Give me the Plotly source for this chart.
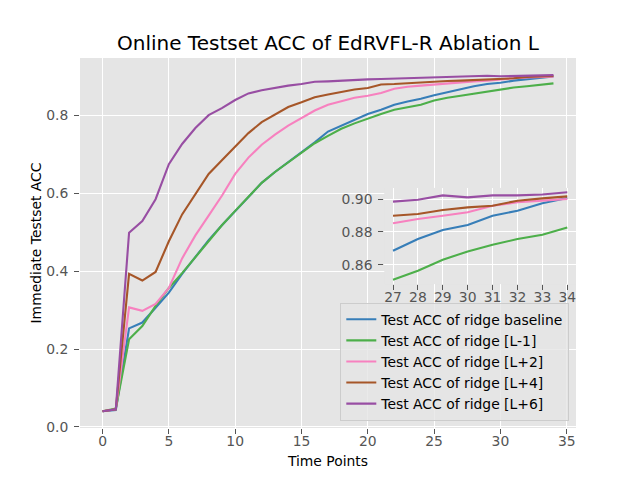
import plotly.graph_objects as go

time_points = list(range(35))

acc_baseline = [0.040, 0.043, 0.253, 0.268, 0.306, 0.345, 0.393, 0.437, 0.480, 0.518,
                0.555, 0.591, 0.627, 0.655, 0.680, 0.705, 0.731, 0.759, 0.774, 0.791,
                0.804, 0.815, 0.828, 0.836, 0.843, 0.852, 0.860, 0.8685, 0.8756, 0.8811,
                0.8842, 0.8898, 0.8929, 0.8974, 0.9006]
acc_l_minus1 = [0.040, 0.047, 0.225, 0.259, 0.311, 0.357, 0.395, 0.437, 0.479, 0.518,
                0.555, 0.590, 0.627, 0.655, 0.680, 0.705, 0.729, 0.748, 0.766, 0.780,
                0.793, 0.804, 0.815, 0.822, 0.828, 0.839, 0.846, 0.8509, 0.8563, 0.8630,
                0.8681, 0.8722, 0.8756, 0.8783, 0.8827]
acc_l_plus2 = [0.040, 0.045, 0.307, 0.298, 0.316, 0.357, 0.433, 0.492, 0.543, 0.594,
               0.650, 0.692, 0.725, 0.751, 0.774, 0.793, 0.813, 0.828, 0.837, 0.846,
               0.851, 0.858, 0.869, 0.874, 0.877, 0.880, 0.883, 0.8852, 0.8878, 0.8898,
               0.8919, 0.8959, 0.8980, 0.8990, 0.9000]
acc_l_plus4 = [0.040, 0.045, 0.393, 0.376, 0.398, 0.477, 0.546, 0.598, 0.650, 0.685,
               0.719, 0.755, 0.783, 0.803, 0.822, 0.834, 0.847, 0.854, 0.860, 0.867,
               0.871, 0.880, 0.881, 0.883, 0.886, 0.888, 0.889, 0.8898, 0.8909, 0.8933,
               0.8949, 0.8959, 0.8990, 0.9004, 0.9016]
acc_l_plus6 = [0.040, 0.045, 0.499, 0.529, 0.585, 0.675, 0.727, 0.768, 0.801, 0.819,
               0.840, 0.857, 0.865, 0.871, 0.877, 0.881, 0.887, 0.888, 0.890, 0.892,
               0.893, 0.894, 0.895, 0.895, 0.896, 0.897, 0.898, 0.8984, 0.8996, 0.9022,
               0.9010, 0.9022, 0.9022, 0.9028, 0.9041]

series_names = ["Test ACC of ridge baseline", "Test ACC of ridge [L-1]",
                "Test ACC of ridge [L+2]", "Test ACC of ridge [L+4]",
                "Test ACC of ridge [L+6]"]
series_values = [acc_baseline, acc_l_minus1, acc_l_plus2, acc_l_plus4, acc_l_plus6]
colors = ["#377eb8", "#4daf4a", "#f781bf", "#a65628", "#984ea3"]

inset_start = 27
main_xticks = [0, 5, 10, 15, 20, 25, 30, 35]
main_yticks = [0.0, 0.2, 0.4, 0.6, 0.8]
inset_xticks = list(range(27, 35))
inset_yticks = [0.86, 0.88, 0.90]

FS = 13.9  # 10pt at 100 dpi

fig = go.Figure()
for name, vals, c in zip(series_names, series_values, colors):
    fig.add_trace(go.Scatter(x=time_points, y=vals, mode="lines", name=name,
                             line=dict(color=c, width=2.1), xaxis="x", yaxis="y"))
for name, vals, c in zip(series_names, series_values, colors):
    xs = [t for t in time_points if t >= inset_start]
    ys = [v for t, v in zip(time_points, vals) if t >= inset_start]
    fig.add_trace(go.Scatter(x=xs, y=ys, mode="lines", name=name, showlegend=False,
                             line=dict(color=c, width=2.1), xaxis="x2", yaxis="y2"))

tickfont = dict(family="DejaVu Sans", size=FS, color="#555555")
axis_common = dict(showgrid=True, gridcolor="white", gridwidth=1, zeroline=False,
                   ticks="outside", ticklen=5, tickwidth=1, tickcolor="#555555",
                   tickfont=tickfont, showline=False, automargin=False)
x_common = dict(axis_common, ticklabelstandoff=-5)
y_common = dict(axis_common, ticklabelstandoff=3)

# the page adds an 8px body margin, so the figure is 632x472 placed at (8, 8)
fig.update_layout(
    width=632, height=472, autosize=False,
    margin=dict(l=72, r=64, t=50, b=52.4, pad=0),
    paper_bgcolor="white", plot_bgcolor="#E5E5E5",
    font=dict(family="DejaVu Sans", size=FS, color="black"),
    title=dict(text="Online Testset ACC of EdRVFL-R Ablation L", x=0.5, xref="paper",
               xanchor="center", y=1 - 35 / 472, yref="container", yanchor="middle",
               font=dict(family="DejaVu Sans", size=20, color="black")),
    xaxis=dict(domain=[0, 1], range=[-1.7, 35.7], tickvals=main_xticks,
               title=dict(text="Time Points", font=dict(size=FS, color="black"), standoff=8),
               **x_common),
    yaxis=dict(domain=[0, 1], range=[-0.003, 0.948], tickvals=main_yticks, tickformat=".1f",
               title=dict(text="Immediate Testset ACC", font=dict(size=FS, color="black"), standoff=1),
               **y_common),
    xaxis2=dict(domain=[0.6135, 1.0], anchor="y2", range=[26.65, 34.35], tickvals=inset_xticks,
                **x_common),
    yaxis2=dict(domain=[0.389, 0.649], anchor="x2", range=[0.8482, 0.9068], tickvals=inset_yticks,
                tickformat=".2f", **y_common),
    legend=dict(x=0.9865, y=0.0195, xanchor="right", yanchor="bottom",
                bgcolor="rgba(229,229,229,0.8)", bordercolor="#cccccc", borderwidth=1,
                font=dict(family="DejaVu Sans", size=FS, color="black")),
    showlegend=True,
)

fig.write_html("out.html")
